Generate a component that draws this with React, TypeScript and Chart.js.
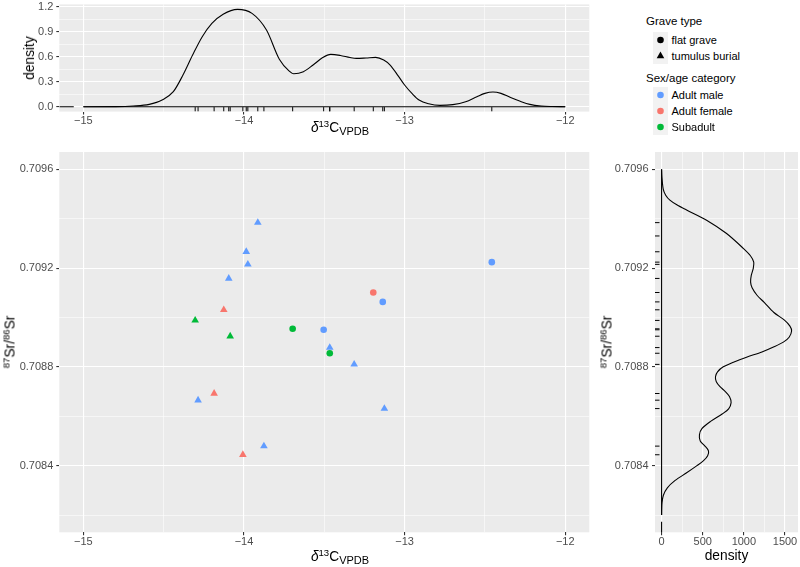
import React, { useEffect, useRef } from 'react';
import { Chart, registerables } from 'chart.js';

Chart.register(...registerables);

const FONT = '"Liberation Sans", Arial, Helvetica, sans-serif';

// ---- scatter data (one entry per individual) ----
const carbon = [-13.914, -13.986, -13.976, -12.457, -14.095, -13.195, -13.136, -14.126, -14.304, -13.697, -13.504, -14.086, -13.466, -13.466, -13.314, -14.186, -14.286, -13.126, -13.876, -14.007];
const strontium = [0.709384, 0.709266, 0.709215, 0.709224, 0.709158, 0.709101, 0.709063, 0.709031, 0.708988, 0.708954, 0.70895, 0.708924, 0.708878, 0.708855, 0.70881, 0.708692, 0.708665, 0.708631, 0.708479, 0.708444];
const sexAge = ['Adult male', 'Adult male', 'Adult male', 'Adult male', 'Adult male', 'Adult female', 'Adult male', 'Adult female', 'Subadult', 'Subadult', 'Adult male', 'Subadult', 'Adult male', 'Subadult', 'Adult male', 'Adult female', 'Adult male', 'Adult male', 'Adult male', 'Adult female'];
const graveType = ['tumulus burial', 'tumulus burial', 'tumulus burial', 'flat grave', 'tumulus burial', 'flat grave', 'flat grave', 'tumulus burial', 'tumulus burial', 'flat grave', 'flat grave', 'tumulus burial', 'tumulus burial', 'flat grave', 'tumulus burial', 'tumulus burial', 'tumulus burial', 'tumulus burial', 'tumulus burial', 'tumulus burial'];

// ---- legend categories ----
const graveTypes = ['flat grave', 'tumulus burial'];
const sexAgeCategories = ['Adult male', 'Adult female', 'Subadult'];
const sexAgeColours = ['#619CFF', '#F8766D', '#00BA38'];

// ---- rug values ----
const carbonRug = carbon;
const strontiumRug = [...strontium, 0.70933];

// ---- marginal density of carbon ----
const densityCarbonX = [-15.0, -14.8, -14.69, -14.59, -14.51, -14.44, -14.38, -14.32, -14.26, -14.2, -14.13, -14.04, -13.95, -13.86, -13.78, -13.72, -13.69, -13.63, -13.57, -13.51, -13.46, -13.4, -13.34, -13.3, -13.24, -13.18, -13.13, -13.09, -13.04, -13.0, -12.95, -12.91, -12.85, -12.78, -12.7, -12.62, -12.55, -12.5, -12.45, -12.4, -12.34, -12.28, -12.22, -12.15, -12.08, -12.0];
const densityCarbonY = [0, 0.001, 0.008, 0.028, 0.08, 0.18, 0.38, 0.62, 0.84, 1.0, 1.11, 1.168, 1.12, 0.92, 0.57, 0.43, 0.395, 0.42, 0.5, 0.59, 0.628, 0.615, 0.59, 0.58, 0.585, 0.592, 0.56, 0.5, 0.37, 0.26, 0.15, 0.08, 0.035, 0.016, 0.025, 0.06, 0.12, 0.16, 0.176, 0.16, 0.11, 0.065, 0.028, 0.008, 0.002, 0];
const carbonBaseline = [-15.0, -12.0];
const carbonStub = [-15.15, -15.06];

// ---- marginal density of strontium ----
const densitySrY = [0.7096, 0.70957, 0.70952, 0.709495, 0.709475, 0.709455, 0.709435, 0.709394, 0.70934, 0.70928, 0.70925, 0.709224, 0.7092, 0.70917, 0.709143, 0.70912, 0.70909, 0.70906, 0.70902, 0.70899, 0.708965, 0.708945, 0.70892, 0.7089, 0.70888, 0.70886, 0.70884, 0.70882, 0.7088, 0.70878, 0.70876, 0.70874, 0.70872, 0.7087, 0.70868, 0.708655, 0.70863, 0.70861, 0.70858, 0.70855, 0.708525, 0.7085, 0.70848, 0.70846, 0.70844, 0.70842, 0.7084, 0.70837, 0.70834, 0.70831, 0.70828, 0.70825, 0.70822, 0.7082];
const densitySrX = [0, 4, 20, 50, 101, 190, 304, 547, 790, 993, 1080, 1120, 1115, 1090, 1082, 1100, 1160, 1250, 1365, 1490, 1560, 1580, 1550, 1480, 1360, 1220, 1040, 880, 750, 680, 655, 665, 710, 775, 825, 845, 815, 740, 600, 490, 460, 470, 525, 570, 560, 510, 430, 300, 165, 70, 22, 5, 1, 0];
const srBaseline = [0.7096, 0.7082];
const srStub = [0.708173, 0.70813];

// ---- axis ticks ----
const carbonMajor = [-15, -14, -13, -12];
const carbonMinor = [-14.5, -13.5, -12.5];
const srMajor = [0.7084, 0.7088, 0.7092, 0.7096];
const srMinor = [0.7082, 0.7086, 0.709, 0.7094];
const densTopMajor = [0, 0.3, 0.6, 0.9, 1.2];
const densTopMinor = [0.15, 0.45, 0.75, 1.05];
const densRightMajor = [0, 500, 1000, 1500];
const densRightMinor = [250, 750, 1250];

const fmtCarbon = (v: number) => (v < 0 ? '\u2212' + Math.abs(v) : String(v));
const fmtSr = (v: number) => v.toFixed(4);
const fmtTop = (v: number) => v.toFixed(1);
const fmtRight = (v: number) => String(Math.round(v));

function makeAxis(o: {
  min: number; max: number; major: number[]; minor: number[]; fmt: (v: number) => string;
  size: number; horizontal: boolean; padding: number;
}) {
  const all = [...o.major, ...o.minor].sort((a, b) => a - b);
  const isMajor = (v: number) => o.major.some((m) => Math.abs(m - v) < 1e-9);
  return {
    type: 'linear',
    min: o.min,
    max: o.max,
    afterBuildTicks: (s: any) => {
      s.ticks = all.map((v) => ({ value: v }));
    },
    afterFit: (s: any) => {
      if (o.horizontal) s.height = o.size;
      else s.width = o.size;
      s.paddingTop = 0;
      s.paddingBottom = 0;
      s.paddingLeft = 0;
      s.paddingRight = 0;
    },
    grid: {
      color: '#FFFFFF',
      lineWidth: (c: any) => (c.tick && isMajor(c.tick.value) ? 1.1 : 0.55),
      tickColor: (c: any) => (c.tick && isMajor(c.tick.value) ? '#333333' : 'rgba(0,0,0,0)'),
      tickLength: 3,
      tickWidth: 1.1,
      drawTicks: true,
      drawOnChartArea: true,
    },
    border: { display: false },
    ticks: {
      autoSkip: false,
      maxRotation: 0,
      minRotation: 0,
      padding: o.padding,
      color: '#4D4D4D',
      font: { family: FONT, size: 11 },
      callback: (v: any) => (isMajor(Number(v)) ? o.fmt(Number(v)) : ''),
    },
  };
}

const panelBg = {
  id: 'panelBg',
  beforeDraw(chart: any) {
    const { ctx, chartArea: a } = chart;
    ctx.save();
    ctx.fillStyle = '#EBEBEB';
    ctx.fillRect(a.left, a.top, a.right - a.left, a.bottom - a.top);
    ctx.restore();
  },
};

function makeRug(axis: 'x' | 'y', values: number[], length: number) {
  return {
    id: 'rug',
    afterDatasetsDraw(chart: any) {
      const { ctx, chartArea: a } = chart;
      ctx.save();
      ctx.beginPath();
      ctx.rect(a.left, a.top, a.right - a.left, a.bottom - a.top);
      ctx.clip();
      ctx.strokeStyle = '#000000';
      ctx.lineWidth = 1;
      ctx.beginPath();
      for (const v of values) {
        if (axis === 'x') {
          const px = chart.scales.x.getPixelForValue(v);
          ctx.moveTo(px, a.bottom);
          ctx.lineTo(px, a.bottom - length);
        } else {
          const py = chart.scales.y.getPixelForValue(v);
          ctx.moveTo(a.left, py);
          ctx.lineTo(a.left + length, py);
        }
      }
      ctx.stroke();
      ctx.restore();
    },
  };
}

const baseOptions = {
  responsive: false,
  animation: false,
  events: [],
  plugins: { legend: { display: false }, tooltip: { enabled: false } },
};

const lineStyle = { showLine: true, pointRadius: 0, borderColor: '#000000', borderWidth: 1.1, fill: false };

function topConfig(): any {
  return {
    type: 'scatter',
    data: {
      datasets: [
        { ...lineStyle, data: carbonBaseline.map((x) => ({ x, y: 0 })) },
        { ...lineStyle, data: carbonStub.map((x) => ({ x, y: 0 })) },
        { ...lineStyle, cubicInterpolationMode: 'monotone', data: densityCarbonX.map((x, i) => ({ x, y: densityCarbonY[i] })) },
      ],
    },
    options: {
      ...baseOptions,
      layout: { padding: { top: 4.4, right: 10.7, left: 0, bottom: 0 } },
      scales: {
        x: makeAxis({ min: -15.15, max: -11.85, major: carbonMajor, minor: carbonMinor, fmt: fmtCarbon, size: 28.4, horizontal: true, padding: 0 }),
        y: makeAxis({ min: -0.0588, max: 1.2276, major: densTopMajor, minor: densTopMinor, fmt: fmtTop, size: 59.3, horizontal: false, padding: 3 }),
      },
    },
    plugins: [panelBg, makeRug('x', carbonRug, 4.5)],
  };
}

function mainConfig(): any {
  const colourOf = (s: string) => sexAgeColours[sexAgeCategories.indexOf(s)];
  const colours = sexAge.map(colourOf);
  return {
    type: 'scatter',
    data: {
      datasets: [
        {
          data: carbon.map((x, i) => ({ x, y: strontium[i] })),
          pointStyle: graveType.map((g) => (g === 'flat grave' ? 'circle' : 'triangle')),
          pointRadius: graveType.map((g) => (g === 'flat grave' ? 3.3 : 4.4)),
          pointBackgroundColor: colours,
          pointBorderColor: colours,
          pointBorderWidth: 0,
          showLine: false,
        },
      ],
    },
    options: {
      ...baseOptions,
      layout: { padding: { top: 12, right: 10.7, left: 0, bottom: 0 } },
      scales: {
        x: makeAxis({ min: -15.15, max: -11.85, major: carbonMajor, minor: carbonMinor, fmt: fmtCarbon, size: 34.7, horizontal: true, padding: 0 }),
        y: makeAxis({ min: 0.70813, max: 0.70967, major: srMajor, minor: srMinor, fmt: fmtSr, size: 59.3, horizontal: false, padding: 3 }),
      },
    },
    plugins: [panelBg],
  };
}

function rightConfig(): any {
  return {
    type: 'scatter',
    data: {
      datasets: [
        { ...lineStyle, data: srBaseline.map((y) => ({ x: 0, y })) },
        { ...lineStyle, data: srStub.map((y) => ({ x: 0, y })) },
        { ...lineStyle, tension: 0.3, data: densitySrY.map((y, i) => ({ x: densitySrX[i], y })) },
      ],
    },
    options: {
      ...baseOptions,
      layout: { padding: { top: 12, right: 2, left: 0, bottom: 0 } },
      scales: {
        x: makeAxis({ min: -80, max: 1658, major: densRightMajor, minor: densRightMinor, fmt: fmtRight, size: 34.7, horizontal: true, padding: 0 }),
        y: makeAxis({ min: 0.70813, max: 0.70967, major: srMajor, minor: srMinor, fmt: fmtSr, size: 55, horizontal: false, padding: 3.5 }),
      },
    },
    plugins: [panelBg, makeRug('y', strontiumRug, 4.5)],
  };
}

const supStyle: React.CSSProperties = { fontSize: '9.6px', position: 'relative', top: '-5px' };
const subStyle: React.CSSProperties = { fontSize: '11px', position: 'relative', top: '3px' };

function CarbonTitle() {
  return (
    <span>
      <i>δ</i>
      <span style={supStyle}>13</span>C<span style={subStyle}>VPDB</span>
    </span>
  );
}

function SrTitle() {
  return (
    <span>
      <span style={supStyle}>87</span>Sr/<span style={supStyle}>86</span>Sr
    </span>
  );
}

const titleBase: React.CSSProperties = {
  position: 'absolute',
  fontFamily: FONT,
  fontSize: '13.75px',
  lineHeight: '16px',
  color: '#000000',
  whiteSpace: 'nowrap',
};

function HTitle(props: { cx: number; cy: number; children: React.ReactNode }) {
  return (
    <div style={{ ...titleBase, left: props.cx, top: props.cy, transform: 'translate(-50%, -50%)' }}>
      {props.children}
    </div>
  );
}

function VTitle(props: { cx: number; cy: number; children: React.ReactNode }) {
  return (
    <div style={{ ...titleBase, left: props.cx, top: props.cy, transform: 'translate(-50%, -50%) rotate(-90deg)' }}>
      {props.children}
    </div>
  );
}

function KeySymbol(props: { shape: 'circle' | 'triangle'; colour: string }) {
  const r = props.shape === 'circle' ? 3.3 : 4.4;
  return (
    <svg width={15} height={16} style={{ position: 'absolute', left: 0, top: 0 }}>
      <rect x={0} y={0} width={15} height={16} fill="#F2F2F2" />
      {props.shape === 'circle' ? (
        <circle cx={7.5} cy={8} r={r} fill={props.colour} />
      ) : (
        <polygon
          points={`7.5,${8 - r} ${7.5 + 0.866 * r},${8 + r / 2} ${7.5 - 0.866 * r},${8 + r / 2}`}
          fill={props.colour}
        />
      )}
    </svg>
  );
}

function LegendRow(props: { cy: number; label: string; shape: 'circle' | 'triangle'; colour: string }) {
  return (
    <div style={{ position: 'absolute', left: 653, top: props.cy - 8, width: 140, height: 16 }}>
      <KeySymbol shape={props.shape} colour={props.colour} />
      <div
        style={{
          position: 'absolute',
          left: 18.5,
          top: 0,
          fontFamily: FONT,
          fontSize: '11px',
          lineHeight: '16px',
          color: '#000000',
          whiteSpace: 'nowrap',
        }}
      >
        {props.label}
      </div>
    </div>
  );
}

export default function App() {
  const topRef = useRef<HTMLCanvasElement>(null);
  const mainRef = useRef<HTMLCanvasElement>(null);
  const rightRef = useRef<HTMLCanvasElement>(null);

  useEffect(() => {
    const charts: Chart[] = [];
    if (topRef.current) charts.push(new Chart(topRef.current, topConfig()));
    if (mainRef.current) charts.push(new Chart(mainRef.current, mainConfig()));
    if (rightRef.current) charts.push(new Chart(rightRef.current, rightConfig()));
    return () => charts.forEach((c) => c.destroy());
  }, []);

  const gravePos = [39.5, 56];
  const sexPos = [95, 111, 127];

  return (
    <div
      style={{
        position: 'fixed',
        left: 0,
        top: 0,
        width: 800,
        height: 567,
        background: '#FFFFFF',
        overflow: 'hidden',
        fontFamily: FONT,
      }}
    >
      <canvas ref={topRef} width={600} height={140} style={{ position: 'absolute', left: 0, top: 0, width: 600, height: 140 }} />
      <canvas ref={mainRef} width={600} height={427} style={{ position: 'absolute', left: 0, top: 140, width: 600, height: 427 }} />
      <canvas ref={rightRef} width={200} height={427} style={{ position: 'absolute', left: 600, top: 140, width: 200, height: 427 }} />

      <VTitle cx={30} cy={58}>density</VTitle>
      <HTitle cx={340} cy={128}><CarbonTitle /></HTitle>
      <VTitle cx={10.5} cy={342}><SrTitle /></VTitle>
      <HTitle cx={340} cy={557}><CarbonTitle /></HTitle>
      <VTitle cx={607.5} cy={342}><SrTitle /></VTitle>
      <HTitle cx={726.5} cy={556}>density</HTitle>

      <div style={{ position: 'absolute', left: 646, top: 15, fontFamily: FONT, fontSize: '11.5px', lineHeight: '13px', whiteSpace: 'nowrap' }}>
        Grave type
      </div>
      {graveTypes.map((g, i) => (
        <LegendRow key={g} cy={gravePos[i]} label={g} shape={g === 'flat grave' ? 'circle' : 'triangle'} colour="#000000" />
      ))}
      <div style={{ position: 'absolute', left: 646, top: 72, fontFamily: FONT, fontSize: '11.5px', lineHeight: '13px', whiteSpace: 'nowrap' }}>
        Sex/age category
      </div>
      {sexAgeCategories.map((s, i) => (
        <LegendRow key={s} cy={sexPos[i]} label={s} shape="circle" colour={sexAgeColours[i]} />
      ))}
    </div>
  );
}
